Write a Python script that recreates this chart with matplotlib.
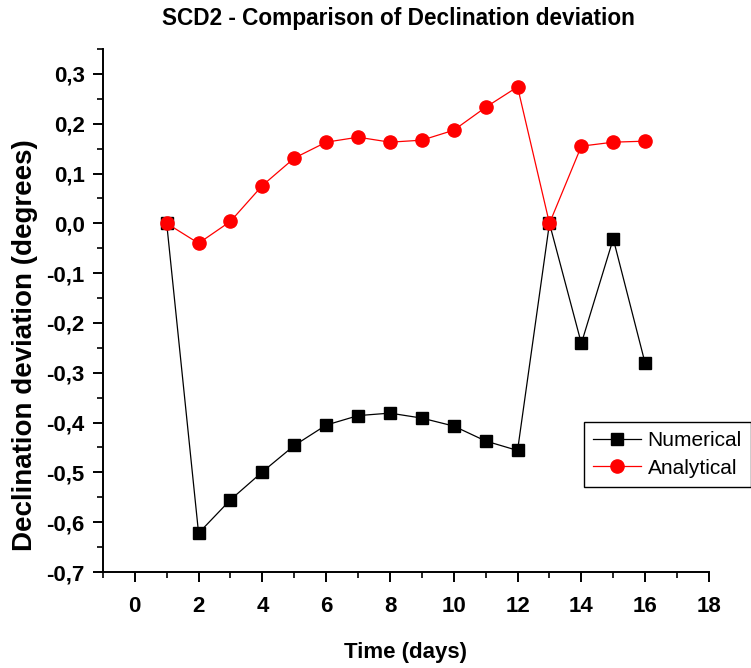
#!/usr/bin/env python3
import matplotlib
matplotlib.use('Agg')
import matplotlib.pyplot as plt
from matplotlib.ticker import MultipleLocator, FuncFormatter

days = [1, 2, 3, 4, 5, 6, 7, 8, 9, 10, 11, 12, 13, 14, 15, 16]
numerical = [0.0, -0.622, -0.555, -0.499, -0.446, -0.405, -0.386, -0.381,
             -0.391, -0.407, -0.437, -0.456, 0.0, -0.241, -0.031, -0.281]
analytical = [0.0, -0.040, 0.004, 0.076, 0.131, 0.163, 0.173, 0.163,
              0.167, 0.187, 0.233, 0.274, 0.0, 0.155, 0.163, 0.165]

font = ['Liberation Sans', 'DejaVu Sans']


def comma(v, pos):
    return f'{v:.1f}'.replace('.', ',')


def main():
    fig = plt.figure(figsize=(7.51, 6.68), dpi=100)
    ax = fig.add_axes([0.137, 0.1437, 0.807, 0.7829])

    ax.plot(days, numerical, '-s', color='black', lw=0.9, ms=8.5,
            label='Numerical')
    ax.plot(days, analytical, '-o', color='red', mec='red', lw=0.9, ms=9.5,
            label='Analytical')

    ax.set_xlim(-1, 18)
    ax.set_ylim(-0.7, 0.35)
    ax.xaxis.set_major_locator(MultipleLocator(2))
    ax.xaxis.set_minor_locator(MultipleLocator(1))
    ax.yaxis.set_major_locator(MultipleLocator(0.1))
    ax.yaxis.set_minor_locator(MultipleLocator(0.05))
    ax.yaxis.set_major_formatter(FuncFormatter(comma))

    for s in ('top', 'right'):
        ax.spines[s].set_visible(False)
    for s in ('left', 'bottom'):
        ax.spines[s].set_linewidth(1.4)

    ax.tick_params(which='major', direction='out', length=7, width=1.4)
    ax.tick_params(axis='x', which='major', pad=10)
    ax.tick_params(axis='y', which='major', pad=6)
    ax.tick_params(which='minor', direction='out', length=4, width=1.2)
    for lab in ax.get_xticklabels() + ax.get_yticklabels():
        lab.set_family(font)
        lab.set_fontweight('bold')
        lab.set_fontsize(16)

    ax.set_xlabel('Time (days)', family=font, fontweight='bold',
                  fontsize=16, labelpad=18)
    ax.set_ylabel('Declination deviation (degrees)', family=font,
                  fontweight='bold', fontsize=20)
    ax.yaxis.set_label_coords(-0.107, 0.434)
    fig.text(0.531, 0.972, 'SCD2 - Comparison of Declination deviation',
             family=font, fontweight='bold', fontsize=16.3,
             ha='center', va='center')

    leg = ax.legend(loc='upper left', bbox_to_anchor=(584 / 751, 1 - 422 / 668),
                    bbox_transform=fig.transFigure, borderaxespad=0,
                    fancybox=False, edgecolor='black', framealpha=1,
                    handlelength=2.3, borderpad=0.45, labelspacing=0.4,
                    handletextpad=0.3, prop={'family': font, 'size': 15})
    leg.get_frame().set_linewidth(1.0)

    fig.savefig('out.png', dpi=100)
    plt.close(fig)


if __name__ == '__main__':
    main()
